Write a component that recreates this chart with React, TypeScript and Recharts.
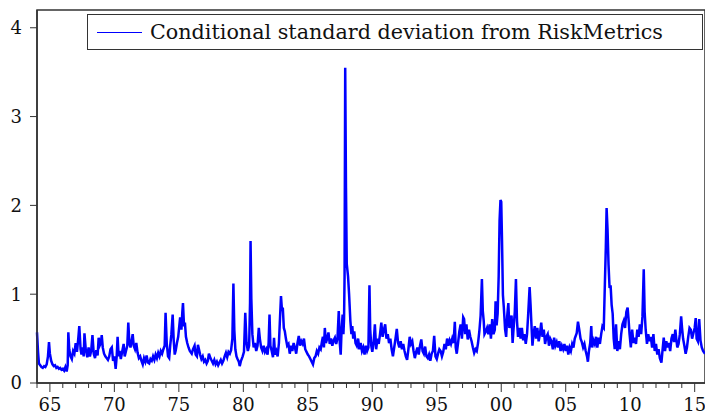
import { Legend, Line, LineChart, ReferenceArea, XAxis, YAxis } from "recharts"

// RiskMetrics conditional std. dev., [decimal year, value]
const sd1960s: [number, number][] = [
  [1964.0, 0.57], [1964.08, 0.35], [1964.15, 0.22], [1964.25, 0.2], [1964.35, 0.18], [1964.45, 0.17],
  [1964.55, 0.19], [1964.65, 0.18], [1964.75, 0.21], [1964.85, 0.3], [1964.93, 0.46], [1965.0, 0.33],
  [1965.1, 0.25], [1965.2, 0.21], [1965.3, 0.19], [1965.4, 0.2], [1965.5, 0.17], [1965.6, 0.18],
  [1965.7, 0.16], [1965.8, 0.17], [1965.9, 0.15], [1966.0, 0.16], [1966.1, 0.14], [1966.2, 0.18],
  [1966.3, 0.13], [1966.38, 0.2], [1966.43, 0.57], [1966.5, 0.38], [1966.6, 0.3], [1966.7, 0.27],
  [1966.8, 0.36], [1966.9, 0.33], [1967.0, 0.45], [1967.1, 0.35], [1967.2, 0.5], [1967.28, 0.64],
  [1967.38, 0.38], [1967.45, 0.32], [1967.55, 0.4], [1967.62, 0.3], [1967.68, 0.56], [1967.78, 0.38],
  [1967.9, 0.29], [1968.0, 0.4], [1968.1, 0.3], [1968.2, 0.36], [1968.3, 0.54], [1968.4, 0.33],
  [1968.5, 0.28], [1968.6, 0.37], [1968.7, 0.31], [1968.78, 0.51], [1968.86, 0.42], [1968.95, 0.45],
  [1969.02, 0.54], [1969.1, 0.4], [1969.2, 0.33], [1969.3, 0.3], [1969.4, 0.28], [1969.5, 0.26],
  [1969.6, 0.3], [1969.7, 0.38], [1969.8, 0.4], [1969.9, 0.25], [1970.0, 0.3], [1970.1, 0.16],
]

const sd1970s: [number, number][] = [
  [1970.18, 0.3], [1970.25, 0.52], [1970.33, 0.3], [1970.4, 0.36], [1970.5, 0.27], [1970.6, 0.35],
  [1970.72, 0.44], [1970.8, 0.3], [1970.9, 0.36], [1971.0, 0.42], [1971.08, 0.68], [1971.16, 0.45],
  [1971.25, 0.4], [1971.33, 0.47], [1971.42, 0.55], [1971.5, 0.42], [1971.6, 0.38], [1971.7, 0.45],
  [1971.8, 0.34], [1971.9, 0.28], [1972.0, 0.3], [1972.1, 0.25], [1972.2, 0.21], [1972.3, 0.28],
  [1972.4, 0.24], [1972.5, 0.31], [1972.6, 0.23], [1972.7, 0.22], [1972.8, 0.27], [1972.9, 0.25],
  [1973.0, 0.3], [1973.1, 0.26], [1973.2, 0.32], [1973.3, 0.28], [1973.4, 0.34], [1973.5, 0.3],
  [1973.6, 0.36], [1973.7, 0.33], [1973.8, 0.38], [1973.9, 0.42], [1973.97, 0.79], [1974.06, 0.45],
  [1974.16, 0.3], [1974.25, 0.28], [1974.33, 0.42], [1974.42, 0.55], [1974.52, 0.77], [1974.6, 0.48],
  [1974.68, 0.32], [1974.76, 0.37], [1974.85, 0.45], [1974.95, 0.52], [1975.1, 0.74], [1975.2, 0.6],
  [1975.26, 0.78], [1975.32, 0.9], [1975.4, 0.64], [1975.47, 0.68], [1975.55, 0.52], [1975.65, 0.45],
  [1975.75, 0.4], [1975.85, 0.36], [1976.0, 0.33], [1976.1, 0.38], [1976.22, 0.42], [1976.3, 0.32],
  [1976.4, 0.3], [1976.48, 0.43], [1976.56, 0.38], [1976.65, 0.32], [1976.75, 0.27], [1976.85, 0.3],
  [1976.95, 0.24], [1977.05, 0.26], [1977.15, 0.22], [1977.25, 0.25], [1977.33, 0.33], [1977.45, 0.28],
  [1977.55, 0.25], [1977.65, 0.22], [1977.75, 0.26], [1977.85, 0.21], [1977.95, 0.24], [1978.05, 0.2],
  [1978.15, 0.23], [1978.25, 0.26], [1978.35, 0.22], [1978.45, 0.25], [1978.55, 0.3], [1978.65, 0.34],
  [1978.75, 0.29], [1978.85, 0.35], [1978.95, 0.33], [1979.05, 0.37], [1979.15, 0.5], [1979.23, 1.12],
  [1979.3, 0.6], [1979.38, 0.38], [1979.47, 0.3], [1979.55, 0.27], [1979.65, 0.24], [1979.72, 0.19],
  [1979.82, 0.25], [1979.95, 0.3],
]

const sd1980s: [number, number][] = [
  [1980.05, 0.35], [1980.15, 0.79], [1980.25, 0.45], [1980.35, 0.36], [1980.45, 0.42], [1980.52, 0.9],
  [1980.56, 1.6], [1980.62, 0.95], [1980.7, 0.55], [1980.8, 0.4], [1980.9, 0.45], [1981.0, 0.36],
  [1981.1, 0.42], [1981.2, 0.62], [1981.28, 0.5], [1981.38, 0.4], [1981.48, 0.36], [1981.58, 0.42],
  [1981.68, 0.35], [1981.78, 0.38], [1981.88, 0.32], [1981.96, 0.45], [1982.03, 0.77], [1982.1, 0.42],
  [1982.2, 0.36], [1982.3, 0.29], [1982.38, 0.51], [1982.46, 0.32], [1982.56, 0.36], [1982.66, 0.3],
  [1982.76, 0.45], [1982.85, 0.75], [1982.92, 0.98], [1983.0, 0.81], [1983.06, 0.85], [1983.14, 0.62],
  [1983.22, 0.58], [1983.3, 0.5], [1983.4, 0.42], [1983.5, 0.44], [1983.6, 0.33], [1983.7, 0.42],
  [1983.8, 0.36], [1983.9, 0.45], [1984.0, 0.4], [1984.1, 0.33], [1984.2, 0.45], [1984.3, 0.53],
  [1984.4, 0.42], [1984.5, 0.47], [1984.6, 0.44], [1984.7, 0.5], [1984.8, 0.38], [1984.9, 0.35],
  [1985.0, 0.32], [1985.1, 0.3], [1985.2, 0.27], [1985.3, 0.24], [1985.4, 0.21], [1985.5, 0.28],
  [1985.6, 0.3], [1985.7, 0.36], [1985.8, 0.33], [1985.9, 0.4], [1986.0, 0.38], [1986.1, 0.47],
  [1986.17, 0.52], [1986.25, 0.4], [1986.32, 0.62], [1986.4, 0.45], [1986.5, 0.5], [1986.6, 0.57],
  [1986.7, 0.44], [1986.8, 0.5], [1986.9, 0.42], [1987.0, 0.48], [1987.1, 0.51], [1987.2, 0.44],
  [1987.3, 0.5], [1987.4, 0.81], [1987.48, 0.45], [1987.55, 0.32], [1987.62, 0.6], [1987.7, 0.77],
  [1987.76, 0.55], [1987.81, 0.72], [1987.85, 1.2], [1987.9, 3.55], [1987.96, 2.2], [1988.02, 1.34],
  [1988.12, 1.2], [1988.2, 1.0], [1988.3, 0.7], [1988.38, 0.55], [1988.45, 0.64], [1988.52, 0.5],
  [1988.6, 0.58], [1988.7, 0.45], [1988.8, 0.42], [1988.9, 0.5], [1989.0, 0.38], [1989.1, 0.45],
  [1989.2, 0.36], [1989.3, 0.4], [1989.4, 0.32], [1989.5, 0.42], [1989.6, 0.36], [1989.7, 0.4],
  [1989.78, 1.1], [1989.84, 0.6], [1989.92, 0.42], [1990.0, 0.35],
]

const sd1990s: [number, number][] = [
  [1990.1, 0.45], [1990.2, 0.66], [1990.3, 0.38], [1990.4, 0.5], [1990.5, 0.44], [1990.6, 0.55],
  [1990.7, 0.68], [1990.8, 0.52], [1990.9, 0.6], [1991.0, 0.66], [1991.1, 0.5], [1991.2, 0.55],
  [1991.3, 0.45], [1991.4, 0.5], [1991.5, 0.38], [1991.6, 0.3], [1991.7, 0.4], [1991.8, 0.5],
  [1991.9, 0.61], [1992.0, 0.45], [1992.1, 0.4], [1992.2, 0.47], [1992.3, 0.38], [1992.4, 0.44],
  [1992.5, 0.36], [1992.6, 0.3], [1992.7, 0.26], [1992.8, 0.38], [1992.9, 0.52], [1993.0, 0.44],
  [1993.1, 0.47], [1993.2, 0.36], [1993.3, 0.28], [1993.4, 0.35], [1993.5, 0.4], [1993.6, 0.32],
  [1993.7, 0.42], [1993.8, 0.49], [1993.9, 0.36], [1994.0, 0.33], [1994.1, 0.41], [1994.2, 0.3],
  [1994.3, 0.28], [1994.4, 0.32], [1994.5, 0.25], [1994.6, 0.33], [1994.7, 0.36], [1994.8, 0.53],
  [1994.9, 0.3], [1995.0, 0.27], [1995.1, 0.33], [1995.2, 0.38], [1995.3, 0.36], [1995.4, 0.3],
  [1995.5, 0.35], [1995.6, 0.44], [1995.7, 0.38], [1995.8, 0.5], [1995.9, 0.42], [1996.0, 0.48],
  [1996.1, 0.44], [1996.2, 0.5], [1996.3, 0.45], [1996.4, 0.69], [1996.47, 0.4], [1996.55, 0.33],
  [1996.65, 0.45], [1996.75, 0.58], [1996.85, 0.66], [1996.95, 0.5], [1997.05, 0.74], [1997.12, 0.72],
  [1997.2, 0.55], [1997.3, 0.66], [1997.4, 0.49], [1997.5, 0.6], [1997.6, 0.52], [1997.7, 0.47],
  [1997.8, 0.4], [1997.9, 0.34], [1998.0, 0.38], [1998.1, 0.36], [1998.2, 0.45], [1998.3, 0.58],
  [1998.4, 0.76], [1998.5, 1.17], [1998.57, 0.81], [1998.64, 0.7], [1998.7, 0.55], [1998.8, 0.58],
  [1998.9, 0.62], [1999.0, 0.55], [1999.1, 0.66], [1999.2, 0.5], [1999.3, 0.72], [1999.4, 0.55],
  [1999.5, 0.6], [1999.56, 0.92], [1999.64, 0.65], [1999.72, 0.78], [1999.8, 1.2], [1999.87, 1.83],
  [1999.94, 2.06],
]

const sd2000s: [number, number][] = [
  [2000.0, 2.04], [2000.06, 1.6], [2000.13, 0.99], [2000.2, 0.85], [2000.3, 0.6], [2000.38, 0.52],
  [2000.46, 0.75], [2000.55, 0.9], [2000.63, 0.62], [2000.72, 0.7], [2000.8, 0.76], [2000.88, 0.45],
  [2000.95, 0.6], [2001.05, 0.8], [2001.14, 1.17], [2001.22, 0.7], [2001.3, 0.52], [2001.4, 0.62],
  [2001.5, 0.5], [2001.6, 0.62], [2001.7, 0.48], [2001.8, 0.55], [2001.9, 0.44], [2002.0, 0.55],
  [2002.08, 0.75], [2002.2, 1.08], [2002.27, 0.89], [2002.35, 0.63], [2002.42, 0.42], [2002.5, 0.55],
  [2002.6, 0.64], [2002.7, 0.5], [2002.8, 0.62], [2002.9, 0.47], [2003.0, 0.55], [2003.1, 0.68],
  [2003.2, 0.52], [2003.3, 0.6], [2003.4, 0.44], [2003.5, 0.52], [2003.6, 0.55], [2003.7, 0.42],
  [2003.8, 0.5], [2003.9, 0.47], [2004.0, 0.38], [2004.1, 0.51], [2004.2, 0.42], [2004.3, 0.46],
  [2004.4, 0.4], [2004.5, 0.47], [2004.6, 0.36], [2004.7, 0.42], [2004.8, 0.38], [2004.9, 0.44],
  [2005.0, 0.36], [2005.1, 0.42], [2005.2, 0.32], [2005.3, 0.4], [2005.4, 0.36], [2005.5, 0.44],
  [2005.6, 0.4], [2005.7, 0.5], [2005.85, 0.56], [2005.95, 0.69], [2006.05, 0.6], [2006.15, 0.5],
  [2006.25, 0.46], [2006.35, 0.4], [2006.45, 0.44], [2006.55, 0.36], [2006.65, 0.3], [2006.72, 0.24],
  [2006.8, 0.36], [2006.9, 0.45], [2006.98, 0.64], [2007.05, 0.4], [2007.15, 0.48], [2007.25, 0.44],
  [2007.35, 0.52], [2007.45, 0.4], [2007.55, 0.51], [2007.65, 0.44], [2007.75, 0.55], [2007.85, 0.64],
  [2007.95, 0.62], [2008.05, 1.2], [2008.11, 1.53], [2008.17, 1.97], [2008.24, 1.74], [2008.32, 1.33],
  [2008.4, 1.07], [2008.48, 1.1], [2008.56, 0.88], [2008.64, 0.78], [2008.72, 0.5], [2008.8, 0.38],
  [2008.9, 0.66], [2009.0, 0.36], [2009.1, 0.47], [2009.2, 0.38], [2009.3, 0.55], [2009.4, 0.66],
  [2009.5, 0.7], [2009.6, 0.62], [2009.7, 0.8], [2009.8, 0.85], [2009.88, 0.7], [2009.95, 0.55],
]

const sd2010s: [number, number][] = [
  [2010.05, 0.4], [2010.15, 0.6], [2010.25, 0.45], [2010.35, 0.51], [2010.45, 0.44], [2010.55, 0.6],
  [2010.65, 0.52], [2010.75, 0.66], [2010.85, 0.55], [2010.95, 0.75], [2011.05, 1.28], [2011.12, 0.8],
  [2011.2, 0.6], [2011.3, 0.44], [2011.4, 0.55], [2011.5, 0.47], [2011.6, 0.52], [2011.7, 0.4],
  [2011.8, 0.55], [2011.9, 0.36], [2012.0, 0.44], [2012.1, 0.32], [2012.2, 0.38], [2012.3, 0.28],
  [2012.42, 0.23], [2012.5, 0.36], [2012.6, 0.51], [2012.7, 0.36], [2012.8, 0.47], [2012.9, 0.4],
  [2013.0, 0.45], [2013.1, 0.36], [2013.2, 0.5], [2013.3, 0.55], [2013.4, 0.46], [2013.5, 0.6],
  [2013.57, 0.5], [2013.65, 0.4], [2013.75, 0.44], [2013.85, 0.55], [2013.95, 0.75], [2014.02, 0.62],
  [2014.1, 0.5], [2014.2, 0.42], [2014.3, 0.33], [2014.4, 0.4], [2014.5, 0.52], [2014.6, 0.62],
  [2014.7, 0.6], [2014.8, 0.5], [2014.9, 0.56], [2015.0, 0.62], [2015.08, 0.73], [2015.15, 0.5],
  [2015.25, 0.47], [2015.35, 0.72], [2015.45, 0.48], [2015.55, 0.4], [2015.65, 0.36], [2015.8, 0.33],
]

const yearTicks = Array.from({ length: 52 }, (_, i) => 1964 + i)
const valueTicks = [0, 1, 2, 3, 4]
const seriesName = "Conditional standard deviation from RiskMetrics"

const rows = [...sd1960s, ...sd1970s, ...sd1980s, ...sd1990s, ...sd2000s, ...sd2010s].map(([t, v]) => ({ t, sd: v }))

const font = "'DejaVu Serif', serif"

function YearTick({ x, y, payload }: any) {
  const yr = payload.value as number
  const major = yr % 5 === 0
  return (
    <g>
      <line x1={x} x2={x} y1={y} y2={y + (major ? 9 : 5)} stroke="#333" strokeWidth={1} />
      {major && (
        <text x={x} y={y + 28} textAnchor="middle" fontFamily={font} fontSize={18} fill="#111">
          {String(yr % 100).padStart(2, "0")}
        </text>
      )}
    </g>
  )
}

function LegendBox({ payload }: any) {
  const item = payload?.[0]
  return (
    <div
      style={{
        boxSizing: "border-box",
        width: 616,
        height: 36,
        border: "1.5px solid #333",
        background: "#fff",
        display: "flex",
        alignItems: "center",
        fontFamily: font,
        fontSize: 20.7,
        color: "#111",
        whiteSpace: "nowrap",
      }}
    >
      <span style={{ display: "inline-block", width: 45, height: 0, borderTop: `1.5px solid ${item?.color ?? "#0000FF"}`, marginLeft: 9, marginRight: 8 }} />
      <span>{item?.value}</span>
    </div>
  )
}

export default function App() {
  return (
    <div style={{ width: 705, height: 415, overflow: "hidden", background: "#fff" }}>
      <style>{"body{margin:0}"}</style>
      <LineChart width={712} height={415} data={rows} margin={{ top: 10, right: 7, left: 0, bottom: 0 }}>
        <ReferenceArea x1={1964} x2={2015.8} y1={0} y2={4.2} fill="none" stroke="#333" strokeWidth={1.5} />
        <XAxis
          dataKey="t"
          type="number"
          domain={[1964, 2015.8]}
          ticks={yearTicks}
          interval={0}
          height={32}
          tickSize={0}
          tickMargin={0}
          tickLine={false}
          axisLine={{ stroke: "#333", strokeWidth: 1.5 }}
          tick={<YearTick />}
        />
        <YAxis
          type="number"
          domain={[0, 4.2]}
          ticks={valueTicks}
          width={37}
          tickSize={7}
          tickMargin={8}
          tickLine={{ stroke: "#333" }}
          axisLine={{ stroke: "#333", strokeWidth: 1.5 }}
          tick={{ fontFamily: font, fontSize: 18, fill: "#111" }}
        />
        <Legend
          layout="horizontal"
          verticalAlign="middle"
          align="center"
          content={<LegendBox />}
          wrapperStyle={{ top: 14, left: 87, width: 616 }}
        />
        <Line
          type="linear"
          dataKey="sd"
          name={seriesName}
          stroke="#0000FF"
          strokeWidth={2.5}
          strokeLinejoin="miter"
          dot={false}
          isAnimationActive={false}
        />
      </LineChart>
    </div>
  )
}
